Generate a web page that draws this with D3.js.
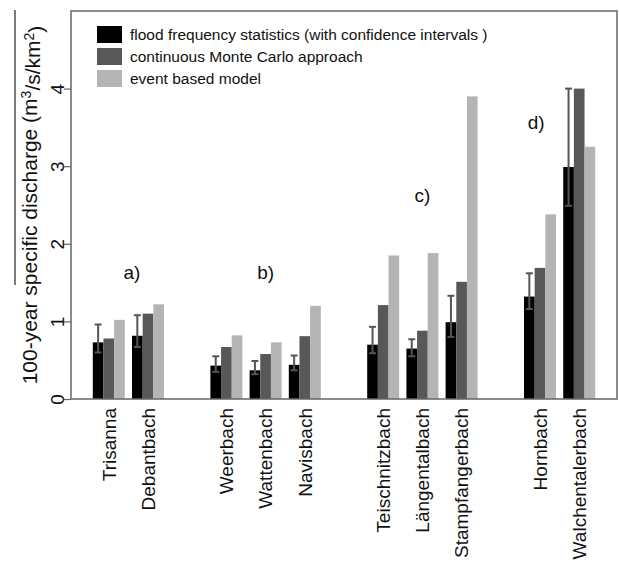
<!DOCTYPE html>
<html>
<head>
<meta charset="utf-8">
<script src="https://cdn.jsdelivr.net/npm/d3@7"></script>
<style>
  body { margin: 0; background: #fff; }
  svg { font-family: "Liberation Sans", Arial, sans-serif; }
</style>
</head>
<body>
<div id="chart"></div>
<script>
// catchments, grouped by region (a-d)
var stations = ["Trisanna", "Debantbach", "Weerbach", "Wattenbach", "Navisbach",
  "Teischnitzbach", "Längentalbach", "Stampfangerbach", "Hornbach", "Walchentalerbach"];
var region = [0, 0, 1, 1, 1, 2, 2, 2, 3, 3];

var seriesNames = ["flood frequency statistics (with confidence intervals )",
  "continuous Monte Carlo approach", "event based model"];
var seriesColors = ["#000000", "#585858", "#b4b4b4"];

// 100-year specific discharge (m3/s/km2)
var floodStats = [0.73, 0.815, 0.43, 0.37, 0.44, 0.70, 0.65, 0.99, 1.32, 2.99];
var ciLow      = [0.60, 0.67, 0.35, 0.32, 0.37, 0.59, 0.55, 0.80, 1.16, 2.49];
var ciHigh     = [0.96, 1.08, 0.55, 0.49, 0.56, 0.93, 0.77, 1.33, 1.62, 4.00];
var monteCarlo = [0.78, 1.10, 0.67, 0.58, 0.81, 1.21, 0.88, 1.51, 1.69, 4.00];
var eventModel = [1.02, 1.22, 0.82, 0.73, 1.20, 1.85, 1.88, 3.90, 2.38, 3.25];

var yTicks = [0, 1, 2, 3, 4];

var panelLabels = ["a)", "b)", "c)", "d)"];
var panelAt = ["Debantbach", "Wattenbach", "Längentalbach", "Hornbach"];
var panelShift = [0, 0.5, 0.5, 0.38]; // fraction of group width
var panelY = [1.55, 1.55, 2.54, 3.48];

var width = 619, height = 562;
var margin = {top: 11, right: 2, bottom: 163, left: 71};

var svg = d3.select("#chart").append("svg")
  .attr("width", width).attr("height", height);

// slot per station, plus one empty slot between regions
var slots = stations.map(function(s, i) { return i + region[i]; });
var slotCount = d3.max(slots) + 1;

var x0 = d3.scaleBand()
  .domain(d3.range(slotCount))
  .range([margin.left, width - margin.right])
  .paddingInner(0.184)
  .paddingOuter(0.556);

var x1 = d3.scaleBand()
  .domain(d3.range(seriesNames.length))
  .range([0, x0.bandwidth()]);

var y = d3.scaleLinear()
  .domain([0, 5])
  .range([height - margin.bottom, margin.top]);

var stationX = function(i) { return x0(slots[i]); };

var values = [floodStats, monteCarlo, eventModel];

// bars
var groups = svg.append("g").selectAll("g")
  .data(stations)
  .enter().append("g")
  .attr("transform", function(d, i) { return "translate(" + stationX(i) + ",0)"; });

groups.selectAll("rect")
  .data(function(d, i) { return values.map(function(v, k) { return {k: k, v: v[i]}; }); })
  .enter().append("rect")
  .attr("x", function(d) { return x1(d.k); })
  .attr("width", x1.bandwidth())
  .attr("y", function(d) { return y(d.v); })
  .attr("height", function(d) { return y(0) - y(d.v); })
  .attr("fill", function(d) { return seriesColors[d.k]; });

// confidence intervals on the flood statistics bars
var errColor = "#555";
var cap = 3.5;
groups.each(function(d, i) {
  var g = d3.select(this);
  var cx = x1(0) + x1.bandwidth() / 2;
  g.append("line")
    .attr("x1", cx).attr("x2", cx)
    .attr("y1", y(ciLow[i])).attr("y2", y(ciHigh[i]))
    .attr("stroke", errColor).attr("stroke-width", 2);
  [ciLow[i], ciHigh[i]].forEach(function(v) {
    g.append("line")
      .attr("x1", cx - cap).attr("x2", cx + cap)
      .attr("y1", y(v)).attr("y2", y(v))
      .attr("stroke", errColor).attr("stroke-width", 2);
  });
});

// frame
svg.append("rect")
  .attr("x", margin.left).attr("y", margin.top)
  .attr("width", width - margin.right - margin.left)
  .attr("height", y(0) - margin.top)
  .attr("fill", "none")
  .attr("stroke", "#666").attr("stroke-width", 1.5);

// y axis
var yAxis = svg.append("g")
  .attr("transform", "translate(" + margin.left + ",0)")
  .call(d3.axisLeft(y).tickValues(yTicks).tickSize(7).tickFormat(d3.format("d")));
yAxis.select(".domain").remove();
yAxis.selectAll(".tick line").attr("stroke", "#666").attr("stroke-width", 1.2);
yAxis.selectAll(".tick text")
  .attr("transform", "rotate(-90)")
  .attr("x", 0).attr("y", -7).attr("dy", 0)
  .attr("text-anchor", "middle")
  .attr("fill", "#111")
  .style("font-size", "19px")
  .style("font-family", "'Liberation Sans', Arial, sans-serif");

// station labels
svg.append("g").selectAll("text")
  .data(stations)
  .enter().append("text")
  .attr("transform", function(d, i) {
    return "translate(" + (stationX(i) + x0.bandwidth() / 2) + "," + (y(0) + 9) + ") rotate(-90)";
  })
  .attr("text-anchor", "end")
  .attr("dy", "0.36em")
  .style("font-size", "19px")
  .attr("fill", "#111")
  .text(function(d) { return d; });

// y title
var title = svg.append("text")
  .attr("transform", "translate(37," + ((margin.top + y(0)) / 2) + ") rotate(-90)")
  .attr("text-anchor", "middle")
  .style("font-size", "21px")
  .attr("fill", "#111");
title.append("tspan").text("100-year specific discharge (m");
title.append("tspan").attr("dy", "-0.4em").style("font-size", "14px").text("3");
title.append("tspan").attr("dy", "0.4em").text("/s/km");
title.append("tspan").attr("dy", "-0.4em").style("font-size", "14px").text("2");
title.append("tspan").attr("dy", "0.4em").text(")");

// stray rule left of the title (as in the scan)
svg.append("line")
  .attr("x1", 15).attr("x2", 15)
  .attr("y1", y(5) - 1).attr("y2", y(1.47))
  .attr("stroke", "#333").attr("stroke-width", 1.3);

// region labels
svg.append("g").selectAll("text")
  .data(panelLabels)
  .enter().append("text")
  .attr("x", function(d, i) {
    return stationX(stations.indexOf(panelAt[i])) + panelShift[i] * x0.bandwidth();
  })
  .attr("y", function(d, i) { return y(panelY[i]); })
  .attr("text-anchor", "middle")
  .style("font-size", "19px")
  .attr("fill", "#111")
  .text(function(d) { return d; });

// legend
var legend = svg.append("g")
  .attr("transform", "translate(97,26)");
var items = legend.selectAll("g")
  .data(seriesNames)
  .enter().append("g")
  .attr("transform", function(d, i) { return "translate(0," + i * 22 + ")"; });
items.append("rect")
  .attr("width", 25).attr("height", 17)
  .attr("fill", function(d, i) { return seriesColors[i]; });
items.append("text")
  .attr("x", 33).attr("y", 14)
  .style("font-size", "15.5px")
  .attr("fill", "#111")
  .text(function(d) { return d; });
</script>
</body>
</html>
